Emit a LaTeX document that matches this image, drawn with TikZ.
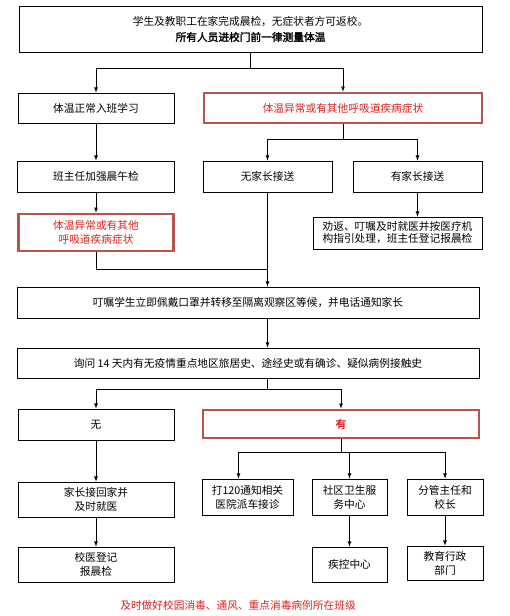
\documentclass[tikz,border=0pt]{standalone}
\usepackage{fontspec}
\setmainfont{Noto Sans CJK SC}[AutoFakeBold=2]
\definecolor{boxred}{RGB}{184,84,80}
\definecolor{txtred}{RGB}{222,32,32}
\begin{document}
\begin{tikzpicture}[x=1pt,y=-1pt,>=latex,line width=0.8pt,
  box/.style={draw,align=center,inner sep=0pt,font=\fontsize{10.7}{14}\selectfont},
  redbox/.style={box,draw=boxred,line width=2.6pt,text=txtred}]
\useasboundingbox (0,0) rectangle (510,616);
\node[box,minimum width=463,minimum height=46] (A) at (250.5,29){学生及教职工在家完成晨检，无症状者方可返校。\\[2pt] \textbf{所有人员进校门前一律测量体温}};
\node[box,minimum width=156,minimum height=30] (B) at (96,108){体温正常入班学习};
\node[redbox,minimum width=278,minimum height=30] (C) at (343,108){体温异常或有其他呼吸道疾病症状};
\node[box,minimum width=157,minimum height=31] (F) at (96,176.5){班主任加强晨午检};
\node[redbox,minimum width=155,minimum height=37] (G) at (96,232.5){体温异常或有其他\\呼吸道疾病症状};
\node[box,minimum width=129,minimum height=31] (D) at (267.5,176.5){无家长接送};
\node[box,minimum width=129,minimum height=31] (E) at (417.5,176.5){有家长接送};
\node[box,minimum width=169,minimum height=32] (K) at (397.5,233){劝返、叮嘱及时就医并按医疗机\\[-2pt]构指引处理，班主任登记报晨检};
\coordinate (J) at (D |- 0,269);
\node[box,minimum width=462,minimum height=31] (H) at (248,302.5){叮嘱学生立即佩戴口罩并转移至隔离观察区等候，并电话通知家长};
\node[box,minimum width=462,minimum height=30] (I) at (248,363){询问 14 天内有无疫情重点地区旅居史、途经史或有确诊、疑似病例接触史};
\node[box,minimum width=156,minimum height=31] (L) at (96,424.5){无};
\node[redbox,minimum width=276,minimum height=28] (M) at (341,424){\textbf{有}};
\node[box,minimum width=156,minimum height=35] (N) at (96,499.5){家长接回家并\\及时就医};
\node[box,minimum width=156,minimum height=35] (O) at (96,564.5){校医登记\\报晨检};
\node[box,minimum width=91,minimum height=36] (P) at (247.5,497){打120通知相关\\医院派车接诊};
\node[box,minimum width=75,minimum height=36] (Q) at (349.5,497){社区卫生服\\务中心};
\node[box,minimum width=76,minimum height=36] (R) at (445,497){分管主任和\\校长};
\node[box,minimum width=75,minimum height=35] (S) at (349.5,564.5){疾控中心};
\node[box,minimum width=76,minimum height=34] (T) at (445,563){教育行政\\部门};
\node[text=txtred,font=\fontsize{10.7}{14}\selectfont] (U) at (238,605){及时做好校园消毒、通风、重点消毒病例所在班级};
\draw[->] (A.south) -- ++(0,16) -| (B.north);
\draw[->] (A.south) -- ++(0,16) -| (C.north);
\draw[->] (B) -- (F);
\draw[->] (F) -- (G);
\draw[->] (C.south) -- ++(0,15) -| (D.north);
\draw[->] (C.south) -- ++(0,15) -| (E.north);
\draw[->] (E) -- (E |- K.north);
\draw (G) |- (J);
\draw[->] (D) -- (D |- H.north);
\draw[->] (H.south -| J) -- (I.north -| J);
\draw[->] (I.south -| J) -- ++(0,11) -| (L.north);
\draw[->] (I.south -| J) -- ++(0,11) -| (M.north);
\draw[->] (L) -- (N);
\draw[->] (N) -- (O);
\draw[->] (M.south) -- ++(0,13) -| ([xshift=-9pt]P.north);
\draw[->] (M.south) -- ++(0,13) -| (Q.north);
\draw[->] (M.south) -- ++(0,13) -| (R.north);
\draw[->] (Q) -- (S);
\draw[->] (R) -- (T);
\end{tikzpicture}
\end{document}
